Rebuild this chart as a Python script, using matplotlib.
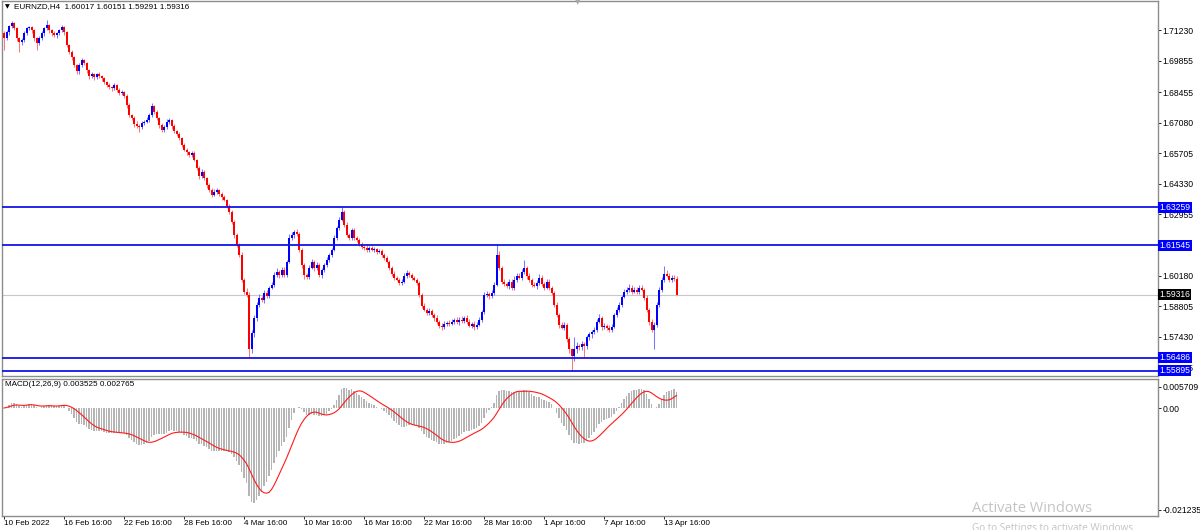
import matplotlib
matplotlib.use("Agg")
import matplotlib.pyplot as plt
import matplotlib.transforms as mtransforms
import numpy as np
import pandas as pd

plt.rcParams['font.family'] = ['Liberation Sans', 'DejaVu Sans']

# ---------------- data ----------------
symbol_title = "EURNZD,H4  1.60017 1.60151 1.59291 1.59316"
macd_title = "MACD(12,26,9) 0.003525 0.002765"

first_open = 1.7110
closes = [
    1.7087, 1.7114, 1.7141, 1.7155, 1.7132, 1.7087, 1.7069, 1.7078, 1.7110, 1.7132,
    1.7137, 1.7123, 1.7087, 1.7065, 1.7087, 1.7110, 1.7132, 1.7146, 1.7123, 1.7110,
    1.7101, 1.7110, 1.7123, 1.7137, 1.7114, 1.7056, 1.7024, 1.7002, 1.6966, 1.6939,
    1.6966, 1.6988, 1.6975, 1.6943, 1.6916, 1.6925, 1.6912, 1.6925, 1.6916, 1.6907,
    1.6889, 1.6876, 1.6867, 1.6862, 1.6876, 1.6854, 1.6840, 1.6845, 1.6827, 1.6786,
    1.6741, 1.6728, 1.6701, 1.6692, 1.6687, 1.6705, 1.6710, 1.6719, 1.6741, 1.6782,
    1.6755, 1.6728, 1.6696, 1.6674, 1.6687, 1.6710, 1.6719, 1.6692, 1.6669, 1.6656,
    1.6638, 1.6606, 1.6584, 1.6575, 1.6562, 1.6571, 1.6539, 1.6503, 1.6467, 1.6485,
    1.6458, 1.6427, 1.6404, 1.6382, 1.6395, 1.6404, 1.6386, 1.6373, 1.6359, 1.6332,
    1.6306, 1.6261, 1.6202, 1.6157, 1.6112, 1.6000, 1.5946, 1.5933, 1.5686, 1.5762,
    1.5829, 1.5888, 1.5919, 1.5910, 1.5942, 1.5928, 1.5964, 1.5978, 1.6022, 1.6036,
    1.6022, 1.6045, 1.6022, 1.6081, 1.6189, 1.6202, 1.6216, 1.6207, 1.6135, 1.6067,
    1.6022, 1.6013, 1.6054, 1.6081, 1.6054, 1.6067, 1.6022, 1.6045, 1.6067, 1.6090,
    1.6112, 1.6135, 1.6189, 1.6234, 1.6270, 1.6306, 1.6247, 1.6202, 1.6189, 1.6225,
    1.6189, 1.6180, 1.6162, 1.6148, 1.6144, 1.6135, 1.6144, 1.6135, 1.6139, 1.6126,
    1.6130, 1.6112, 1.6099, 1.6081, 1.6054, 1.6027, 1.6009, 1.6000, 1.5987, 1.5991,
    1.6018, 1.6032, 1.6022, 1.6009, 1.6000, 1.5987, 1.5933, 1.5883, 1.5865, 1.5852,
    1.5861, 1.5843, 1.5829, 1.5811, 1.5793, 1.5789, 1.5802, 1.5807, 1.5802, 1.5811,
    1.5820, 1.5811, 1.5820, 1.5816, 1.5829, 1.5811, 1.5793, 1.5802, 1.5789, 1.5798,
    1.5820, 1.5856, 1.5933, 1.5937, 1.5928, 1.5942, 1.5978, 1.6112, 1.6054, 1.5991,
    1.5982, 1.5973, 1.5991, 1.5964, 1.6000, 1.6018, 1.6009, 1.6036, 1.6054, 1.6018,
    1.6000, 1.5978, 1.5973, 1.5987, 1.6009, 1.5982, 1.5964, 1.5991, 1.5964, 1.5942,
    1.5888, 1.5843, 1.5798, 1.5784, 1.5798, 1.5731, 1.5686, 1.5654, 1.5686, 1.5699,
    1.5695, 1.5708, 1.5699, 1.5740, 1.5753, 1.5766, 1.5775, 1.5811, 1.5829, 1.5789,
    1.5793, 1.5784, 1.5775, 1.5789, 1.5843, 1.5865, 1.5888, 1.5924, 1.5946, 1.5955,
    1.5964, 1.5946, 1.5955, 1.5946, 1.5964, 1.5955, 1.5919, 1.5865, 1.5811, 1.5775,
    1.5798, 1.5888, 1.5955, 1.6000, 1.6027, 1.6018, 1.6000, 1.6009, 1.60017, 1.59316,
]

# wick lengths beyond the body, in units of 0.0001
upper_wick_pips = [
    10, 12, 8, 10, 6, 5, 8, 10, 12, 6,
    8, 5, 6, 8, 10, 12, 8, 22, 6, 8,
    10, 6, 8, 10, 5, 6, 8, 10, 6, 8,
    12, 10, 6, 8, 5, 10, 8, 6, 10, 8,
    6, 8, 10, 6, 12, 5, 8, 10, 6, 8,
    10, 6, 8, 12, 10, 8, 10, 12, 8, 13,
    6, 8, 5, 10, 8, 12, 10, 6, 8, 5,
    8, 6, 10, 8, 6, 10, 8, 6, 10, 12,
    8, 6, 10, 8, 12, 10, 6, 8, 10, 6,
    8, 10, 6, 8, 10, 12, 8, 15, 10, 12,
    10, 12, 15, 8, 10, 12, 8, 10, 12, 15,
    8, 10, 12, 8, 15, 12, 10, 12, 8, 6,
    10, 8, 12, 10, 8, 12, 10, 8, 10, 12,
    8, 10, 12, 10, 12, 20, 8, 12, 10, 8,
    10, 8, 6, 10, 8, 12, 10, 8, 10, 6,
    8, 10, 6, 8, 6, 8, 10, 8, 6, 10,
    12, 10, 8, 10, 6, 8, 6, 8, 10, 6,
    10, 8, 6, 10, 8, 12, 10, 8, 12, 10,
    8, 12, 10, 15, 8, 10, 12, 8, 10, 12,
    10, 8, 12, 10, 8, 10, 12, 48, 15, 8,
    10, 8, 12, 10, 15, 10, 12, 10, 36, 8,
    10, 8, 10, 12, 15, 10, 8, 12, 10, 6,
    8, 10, 6, 12, 10, 8, 10, 8, 54, 20,
    12, 15, 10, 12, 10, 8, 12, 10, 15, 8,
    10, 8, 12, 10, 8, 10, 12, 8, 10, 12,
    15, 10, 12, 10, 12, 10, 8, 10, 8, 10,
    10, 12, 10, 12, 33, 15, 10, 12, 13, 13,
]
lower_wick_pips = [
    54, 8, 10, 6, 8, 12, 45, 10, 8, 6,
    8, 10, 12, 32, 8, 6, 10, 8, 10, 12,
    8, 10, 6, 8, 10, 8, 6, 10, 8, 12,
    10, 8, 6, 10, 12, 8, 10, 6, 8, 10,
    8, 6, 10, 12, 8, 10, 6, 8, 10, 12,
    8, 10, 12, 8, 20, 10, 8, 6, 10, 8,
    10, 8, 12, 10, 8, 6, 10, 12, 8, 10,
    8, 10, 6, 12, 10, 8, 6, 10, 12, 8,
    10, 12, 8, 10, 6, 8, 10, 12, 6, 8,
    10, 8, 12, 10, 8, 10, 12, 10, 37, 15,
    20, 15, 10, 12, 15, 10, 12, 8, 10, 12,
    15, 10, 12, 10, 8, 10, 12, 8, 10, 15,
    20, 12, 10, 8, 15, 10, 12, 15, 10, 8,
    10, 12, 8, 10, 8, 6, 10, 8, 12, 10,
    8, 10, 12, 10, 8, 12, 10, 8, 10, 12,
    8, 10, 12, 8, 10, 12, 10, 8, 12, 10,
    8, 10, 12, 10, 8, 10, 12, 10, 8, 12,
    10, 12, 15, 10, 12, 15, 10, 12, 10, 8,
    12, 10, 15, 10, 12, 10, 8, 12, 15, 10,
    8, 10, 12, 10, 15, 10, 12, 8, 10, 12,
    10, 12, 15, 10, 12, 10, 8, 12, 10, 15,
    12, 10, 8, 15, 10, 12, 10, 8, 12, 10,
    12, 10, 15, 8, 10, 12, 15, 64, 20, 15,
    12, 10, 49, 12, 10, 15, 12, 10, 8, 15,
    12, 10, 12, 10, 8, 12, 10, 12, 8, 10,
    12, 10, 8, 12, 10, 8, 12, 10, 15, 12,
    89, 12, 10, 12, 10, 8, 12, 10, 8, 2,
]

x_tick_bars = [0, 24, 48, 72, 96, 120, 144, 168, 192, 216, 240, 264]
x_tick_labels = ["10 Feb 2022", "16 Feb 16:00", "22 Feb 16:00", "28 Feb 16:00",
                 "4 Mar 16:00", "10 Mar 16:00", "16 Mar 16:00", "22 Mar 16:00",
                 "28 Mar 16:00", "1 Apr 16:00", "7 Apr 16:00", "13 Apr 16:00"]
price_ticks = [1.71230, 1.69855, 1.68455, 1.67080, 1.65705, 1.64330, 1.62955,
               1.60180, 1.58805, 1.57430, 1.56055]
level_lines = [1.63259, 1.61545, 1.56486, 1.55895]
bid_price = 1.59316
macd_max_label = "0.005709"
macd_min_label = "-0.021235"
macd_min_value = -0.021235

# ---------------- figure ----------------
W, H = 1200, 530
fig = plt.figure(figsize=(12, 5.3), dpi=100)
fig.patch.set_facecolor('white')


def px_rect(x0, y0, x1, y1):
    return [x0 / W, 1 - y1 / H, (x1 - x0) / W, (y1 - y0) / H]


ax = fig.add_axes(px_rect(2, 0.5, 1158, 376))
axm = fig.add_axes(px_rect(2, 379, 1158, 516))

FS = 5.9
FSY = 6.2
BULL, BEAR = '#0000FF', '#FF0000'
GRID_GRAY = '#8C8C8C'

n = len(closes)
idx = np.arange(n)
c = np.array(closes)
o = np.array([first_open] + closes[:-1])
hi = np.maximum(o, c) + np.array(upper_wick_pips) * 1e-4
lo = np.minimum(o, c) - np.array(lower_wick_pips) * 1e-4
bull = c >= o

xlim = (-0.8, -0.8 + 1156 / 2.5)

# candles
ax.vlines(idx, lo, hi, colors=np.where(bull, '#7878FF', '#FF7878'), linewidth=0.75, zorder=2)
ax.bar(idx, np.maximum(np.abs(c - o), 0.00025), bottom=np.minimum(o, c), width=0.8,
       color=np.where(bull, BULL, BEAR), linewidth=0, zorder=3)

# bid line & horizontal levels
ax.axhline(bid_price, color='#C8C8C8', lw=0.8, zorder=1)
for lv in level_lines:
    ax.axhline(lv, color='#1414E6', lw=1.3, zorder=4)

ax.set_xlim(*xlim)
ax.set_ylim(1.5566, 1.7258)
ax.set_xticks([])
ax.yaxis.tick_right()
ax.set_yticks(price_ticks)
ax.set_yticklabels([f"{v:.5f}" for v in price_ticks])
ax.tick_params(axis='y', length=2.2, width=0.6, pad=1.2, labelsize=FSY, colors='black')
for sp in ax.spines.values():
    sp.set_color(GRID_GRAY)
    sp.set_linewidth(1.0)

trans = mtransforms.blended_transform_factory(ax.transAxes, ax.transData)
for lv in level_lines:
    ax.text(1.0 + 1.5 / 1156, lv, f"{lv:.5f}", transform=trans, ha='left', va='center',
            fontsize=FSY, color='white', zorder=10, clip_on=False,
            bbox=dict(boxstyle='square,pad=0.12', fc='#0000FF', ec='none'))
ax.text(1.0 + 1.5 / 1156, bid_price, f"{bid_price:.5f}", transform=trans, ha='left',
        va='center', fontsize=FSY, color='white', zorder=10, clip_on=False,
        bbox=dict(boxstyle='square,pad=0.12', fc='black', ec='none'))

# MACD (12, 26, 9) computed from closes
s = pd.Series(c)
macd = s.ewm(span=12, adjust=False).mean() - s.ewm(span=26, adjust=False).mean()
signal = macd.rolling(9, min_periods=1).mean()
axm.bar(idx, macd.values, width=0.5, color='#B4B4B4', linewidth=0, zorder=2)
axm.plot(idx, signal.values, color='#FF1A1A', lw=0.8, zorder=3)
axm.set_xlim(*xlim)
axm.set_ylim(-0.02249, 0.00604)
axm.yaxis.tick_right()
axm.set_yticks([0.0044, 0.0, macd_min_value])
axm.set_yticklabels([macd_max_label, "0.00", macd_min_label])
axm.tick_params(axis='y', length=2.2, width=0.6, pad=1.2, labelsize=FSY, colors='black')
axm.set_xticks(x_tick_bars)
axm.set_xticklabels(x_tick_labels)
axm.tick_params(axis='x', length=2.2, width=0.6, pad=1.0, labelsize=FS, colors='black')
for lbl in axm.get_xticklabels():
    lbl.set_horizontalalignment('left')
for sp in axm.spines.values():
    sp.set_color(GRID_GRAY)
    sp.set_linewidth(1.0)

# titles
fig.text(5 / W, 1 - 7 / H, "\u25BC", fontsize=4.5, color='black', ha='left', va='center',
         family=['DejaVu Sans'])
fig.text(14 / W, 1 - 7 / H, symbol_title, fontsize=FS, color='black', ha='left', va='center')
fig.text(5 / W, 1 - 385 / H, macd_title, fontsize=FS, color='black', ha='left', va='center')
fig.text(578 / W, 1 - 2 / H, "\u25BC", fontsize=5, color='#A8A8A8', ha='center', va='center',
         family=['DejaVu Sans'])

# OS watermark visible in the screenshot
fig.text(972 / W, 1 - 509 / H, "Activate Windows", fontsize=10.5, color='#C4C4C4',
         ha='left', va='center', family=['Open Sans', 'DejaVu Sans'])
fig.text(972 / W, 1 - 528 / H, "Go to Settings to activate Windows.", fontsize=7.2,
         color='#C4C4C4', ha='left', va='center', family=['Open Sans', 'DejaVu Sans'])

fig.savefig("out.png", dpi=100, facecolor='white')
